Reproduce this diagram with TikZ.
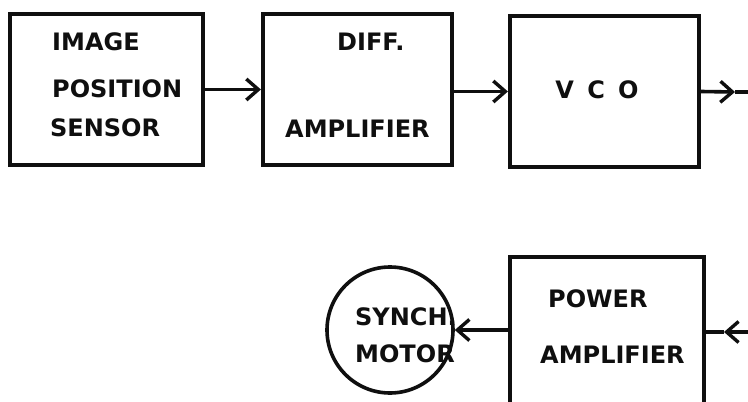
\documentclass[tikz,border=0pt]{standalone}
\usepackage{fontspec}
\setmainfont{DejaVu Sans}
\usetikzlibrary{arrows.meta,positioning}
\definecolor{ink}{RGB}{15,15,15}
\tikzset{
  >={Straight Barb[length=12pt,width=21pt,line width=3.4pt]},
  block/.style={draw=ink,line width=4.2pt,rectangle,minimum width=#1,minimum height=151pt,inner sep=0pt},
  block/.default=189pt,
  motor/.style={draw=ink,line width=3.6pt,circle,minimum size=126pt,inner sep=0pt},
  lbl/.style={anchor=base west,inner sep=0pt,text=ink,font=\fontsize{24}{27}\selectfont\bfseries},
  flow/.style={->,line width=3.6pt,draw=ink},
  wire/.style={line width=3.6pt,draw=ink},
}
\begin{document}
\begin{tikzpicture}[x=1pt,y=-1pt]
  \clip (0,0) rectangle (748,402);
  \fill[white] (0,0) rectangle (748,402);
  % top row
  \node[block=193pt] (sensor) at (106.5,89.5) {};
  \node[lbl] (t1) at (52,50) {IMAGE};
  \node[lbl] (t2) at (52,97) {POSITION};
  \node[lbl] (t3) at (50,136) {SENSOR};
  \node[block] (diff) at (357.5,89.5) {};
  \node[lbl] (t4) at (337,50) {DIFF.};
  \node[lbl] (t5) at (285,137) {AMPLIFIER};
  \node[block] (vco) at (604.5,91.5) {};
  \node[lbl,anchor=base] (t6) at (597,98) {V\;\;C\;\;O};
  \coordinate (vcotip) at (735,92);
  \coordinate (vcoout) at (750,92);
  \draw[flow] (sensor) -- (diff);
  \draw[flow] (diff.east |- vco) -- (vco.west);
  \draw[flow] (vco.east) -- (vcotip);
  \draw[wire] (vcotip) -- (vcoout);
  % bottom row
  \node[block=194pt,minimum height=180pt] (pwr) at (607,347) {};
  \node[lbl] (t7) at (548,307) {POWER};
  \node[lbl] (t8) at (540,363) {AMPLIFIER};
  \node[motor] (mot) at (390,330) {};
  \node[lbl] (t9) at (355,325) {SYNCH.};
  \node[lbl] (t10) at (355,362) {MOTOR};
  \coordinate (pwrin) at (750,332);
  \coordinate (pwrtip) at (724,332);
  \draw[flow] (pwrin) -- (pwrtip);
  \draw[wire] (pwrtip) -- (pwr.east |- pwrtip);
  \draw[flow] (pwr.west |- mot) -- (mot);
\end{tikzpicture}
\end{document}
